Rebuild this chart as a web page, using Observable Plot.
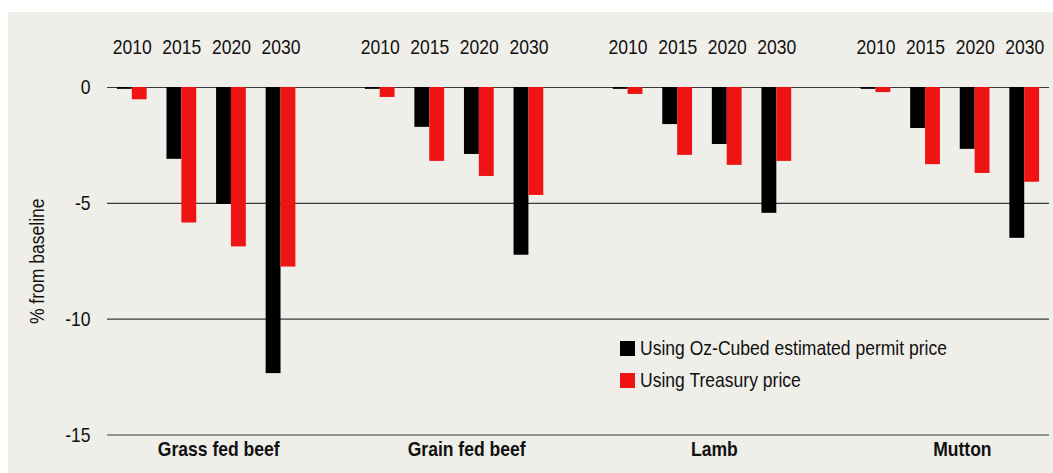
<!DOCTYPE html>
<html>
<head>
<meta charset="utf-8">
<script src="https://cdn.jsdelivr.net/npm/d3@7"></script>
<script src="https://cdn.jsdelivr.net/npm/@observablehq/plot@0.6"></script>
<style>
  html, body { margin: 0; padding: 0; background: #ffffff; }
  body { width: 1053px; height: 473px; position: relative; overflow: hidden;
         font-family: "Liberation Sans", Arial, sans-serif; }
  #panel { position: absolute; left: 8px; top: 12px; width: 1045px; height: 461px; background: #efeee9; }
  #legend { position: absolute; left: 620px; top: 332px; font-size: 21px; color: #111; }
  .row { display: flex; align-items: center; height: 32px; }
  .sw { width: 15px; height: 15px; margin-right: 5px; flex: none; }
  .lt { display: inline-block; transform: scaleX(0.835); transform-origin: left center; white-space: nowrap; }
</style>
</head>
<body>
<div id="panel"></div>
<div id="legend"></div>
<script>
const groups = ["Grass fed beef", "Grain fed beef", "Lamb", "Mutton"];
const years = ["2010", "2015", "2020", "2030"];
const seriesNames = ["Using Oz-Cubed estimated permit price", "Using Treasury price"];
const seriesColors = ["#000000", "#ee1414"];
const ozCubed = [
  [-0.08, -3.1, -5.05, -12.35],
  [-0.08, -1.72, -2.89, -7.24],
  [-0.08, -1.6, -2.46, -5.43],
  [-0.08, -1.77, -2.67, -6.51]
];
const treasury = [
  [-0.53, -5.85, -6.88, -7.75],
  [-0.43, -3.19, -3.84, -4.66],
  [-0.3, -2.93, -3.36, -3.19],
  [-0.22, -3.33, -3.71, -4.09]
];
const yTicks = [0, -5, -10, -15];

const key = (g, y) => g + "|" + y;
const domain = [];
groups.forEach((g, i) => {
  years.forEach(y => domain.push(key(g, y)));
  if (i < groups.length - 1) domain.push("gap" + i);
});

const rows = [];
groups.forEach((g, gi) => years.forEach((y, yi) => {
  rows.push({group: g, year: y, k: key(g, y), oz: ozCubed[gi][yi], tr: treasury[gi][yi]});
}));

const W = 1045, H = 461, ML = 99, MR = 4;
const step = (W - ML - MR) / domain.length;
const half = step * 0.6 / 2;
const FONT = '"Liberation Sans", Arial, sans-serif';
const NARROW = 0.835;

const chart = Plot.plot({
  width: W,
  height: H,
  marginLeft: ML,
  marginRight: MR,
  marginTop: 75,
  marginBottom: 38.5,
  style: {background: "transparent", fontFamily: FONT, color: "#111"},
  x: {type: "band", domain, paddingInner: 0.4, paddingOuter: 0.2, round: false, axis: null},
  y: {domain: [-15, 0], axis: null},
  marks: [
    Plot.ruleY(yTicks, {stroke: "#3a3a3a", strokeWidth: 1.2}),
    Plot.barY(rows, {x: "k", y: "oz", fill: seriesColors[0], insetRight: half}),
    Plot.barY(rows, {x: "k", y: "tr", fill: seriesColors[1], insetLeft: half}),
    Plot.axisY(yTicks, {
      tickSize: 0, tickPadding: 17, fontSize: 21, tickFormat: d => String(d),
      label: "% from baseline", labelAnchor: "center", labelOffset: 78, labelArrow: "none"
    }),
    Plot.text(rows, {x: "k", y: () => 0, text: "year", dy: -40, fontSize: 21, fill: "#111"}),
    Plot.text(groups, {x: g => key(g, "2015"), y: () => -15, text: d => d, dx: step / 2 + 12, dy: 14,
      fontSize: 21, fontWeight: "bold", fill: "#111"})
  ]
});
chart.style.position = "absolute";
chart.style.left = "8px";
chart.style.top = "12px";
document.body.appendChild(chart);

// emulate a narrow (condensed) face by horizontally compressing each label,
// keeping each label's anchor point where it was
chart.querySelectorAll("text").forEach(t => {
  const len = t.getComputedTextLength();
  if (!(len > 0)) return;
  const b0 = t.getBBox();
  const anchor = getComputedStyle(t).textAnchor;
  const target = t.querySelector("tspan") ? Array.from(t.querySelectorAll("tspan")) : [t];
  target.forEach(el => {
    const l = el.getComputedTextLength();
    if (l > 0) {
      el.setAttribute("textLength", (l * NARROW).toFixed(2));
      el.setAttribute("lengthAdjust", "spacingAndGlyphs");
    }
  });
  const b1 = t.getBBox();
  let shift = 0;
  if (anchor === "middle") shift = (b0.x + b0.width / 2) - (b1.x + b1.width / 2);
  else if (anchor === "end") shift = (b0.x + b0.width) - (b1.x + b1.width);
  else shift = b0.x - b1.x;
  if (Math.abs(shift) > 0.01) {
    t.setAttribute("x", ((parseFloat(t.getAttribute("x")) || 0) + shift).toFixed(2));
  }
});

const legend = document.getElementById("legend");
seriesNames.forEach((n, i) => {
  const r = document.createElement("div");
  r.className = "row";
  const s = document.createElement("div");
  s.className = "sw";
  s.style.background = seriesColors[i];
  const t = document.createElement("span");
  t.className = "lt";
  t.textContent = n;
  r.appendChild(s);
  r.appendChild(t);
  legend.appendChild(r);
});
</script>
</body>
</html>
